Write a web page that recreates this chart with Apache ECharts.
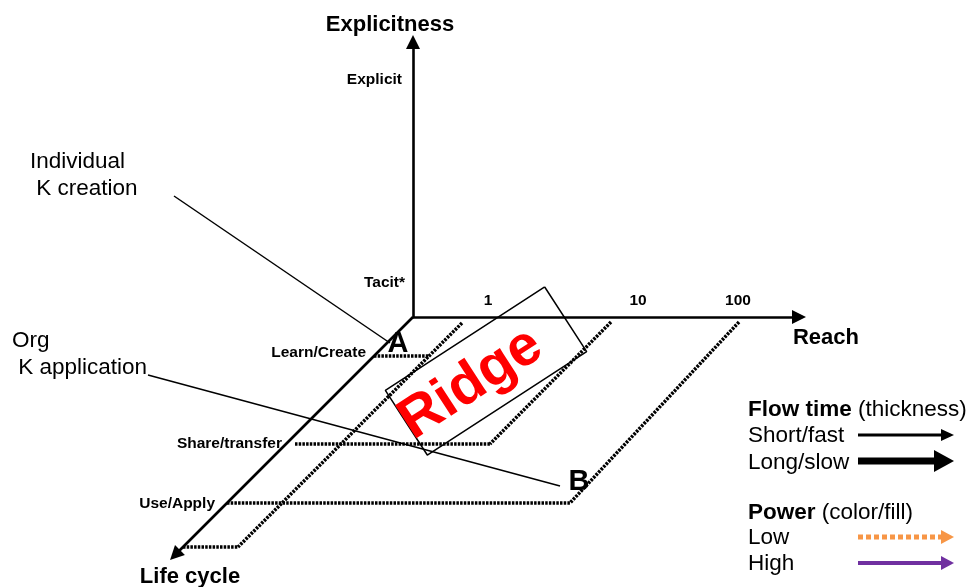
<!DOCTYPE html>
<html>
<head>
<meta charset="utf-8">
<script src="https://cdn.jsdelivr.net/npm/echarts@6/dist/echarts.min.js"></script>
<style>
  html, body { margin: 0; padding: 0; background: #fff; }
  #chart { width: 972px; height: 587px; }
</style>
</head>
<body>
<div id="chart"></div>
<script>
// life cycle stages and their depth along the oblique axis
const stages = ['Learn/Create', 'Share/transfer', 'Use/Apply']
const stageDepth = [39, 127, 186]
// reach ticks (log-ish positions along reach axis)
const reachTicks = ['1', '10', '100']
const reachTickPos = [75, 225, 325]
// explicitness levels
const explicitLevels = ['Tacit*', 'Explicit']
const explicitPos = [34, 237]
// axis lengths [explicitness, reach, life cycle]
const axisLen = [275, 386, 238]
// flow paths, each segment as [[reach, depth], [reach, depth]]
const flowSegments = [
  [[0, 39], [55, 39]],
  [[55, 6], [55, 230]],
  [[0, 230], [55, 230]],
  [[9, 127], [204, 127]],
  [[203, 5], [204, 127]],
  [[0, 186], [343, 186]],
  [[331, 5], [343, 186]]
]
// marked points A and B as [reach, depth, explicitness]
const marks = [['A', 24, 39, 12], ['B', 352, 186, 21]]

const FONT = 'Liberation Sans, Arial, sans-serif'

// oblique projection: reach to the right, depth down-left at 45 degrees, explicitness up
const proj = (r, d, e) => [r - d, (e || 0) - d]

const chart = echarts.init(document.getElementById('chart'))

const axisLines = [
  { coords: [proj(0, 0, 0), proj(0, 0, axisLen[0])] },
  { coords: [proj(0, 0, 0), proj(axisLen[1], 0, 0)] },
  { coords: [proj(0, 0, 0), proj(0, axisLen[2], 0)] }
]

// ridge box: center, half length, half width, angle
const ridge = { c: [73, -54], hl: 95, hw: 38.5, ang: 33 }
const ra = ridge.ang * Math.PI / 180
const ux = Math.cos(ra), uy = Math.sin(ra)
const ridgeBox = [[1, 1], [1, -1], [-1, -1], [-1, 1], [1, 1]].map(([a, b]) => [
  ridge.c[0] + a * ridge.hl * ux - b * ridge.hw * uy,
  ridge.c[1] + a * ridge.hl * uy + b * ridge.hw * ux
])

const labelPoint = (coord, text, opt) => ({
  value: coord,
  label: Object.assign({ show: true, formatter: text, fontFamily: FONT, color: '#000' }, opt)
})

const textPoints = [
  labelPoint(proj(0, 0, axisLen[0] + 35), 'Explicitness', { fontSize: 22, fontWeight: 'bold', position: 'inside', offset: [-23, 18] }),
  labelPoint(proj(axisLen[1], 0, 0), 'Reach', { fontSize: 22, fontWeight: 'bold', position: 'inside', offset: [27, 21] }),
  labelPoint(proj(0, axisLen[2], 0), 'Life cycle', { fontSize: 22, fontWeight: 'bold', position: 'inside', offset: [15, 22] })
]
reachTicks.forEach((t, i) => textPoints.push(
  labelPoint(proj(reachTickPos[i], 0, 16), t, { fontSize: 15.5, fontWeight: 'bold', position: 'inside' })))
explicitLevels.forEach((t, i) => textPoints.push(
  labelPoint(proj(0, 0, explicitPos[i]), t, { fontSize: 15.5, fontWeight: 'bold', position: 'left', distance: 8 + i * 3 })))
stages.forEach((t, i) => textPoints.push(
  labelPoint(proj(0, stageDepth[i], 0), t, { fontSize: 15.5, fontWeight: 'bold', position: 'left', distance: [8, 4, 12][i], offset: [0, [-3, 0, 1][i]] })))
marks.forEach(([t, r, d, e]) => textPoints.push(
  labelPoint(proj(r, d, e), t, { fontSize: 29, fontWeight: 'bold', position: 'inside' })))

// leader lines from the annotation texts to A and B
const leaders = [
  { coords: [[-239, 121], [-23, -26]] },
  { coords: [[-265, -58], [147, -169]] }
]

const legendFont = '22.5px ' + FONT
const richBold = { b: { fontWeight: 'bold', fontSize: 22.5, fontFamily: FONT } }

chart.setOption({
  backgroundColor: '#fff',
  animation: false,
  grid: { left: 0, top: 0, width: 972, height: 587 },
  xAxis: { type: 'value', min: -413, max: 559, show: false },
  yAxis: { type: 'value', min: -270, max: 317, show: false },
  series: [
    {
      type: 'lines',
      coordinateSystem: 'cartesian2d',
      symbol: ['none', 'triangle'],
      symbolSize: [0, 14],
      lineStyle: { color: '#000', width: 2.6, opacity: 1 },
      data: axisLines,
      z: 3
    },
    {
      type: 'lines',
      coordinateSystem: 'cartesian2d',
      lineStyle: { color: '#000', width: 3.5, type: [2.5, 1.2], opacity: 1 },
      data: flowSegments.map(s => ({ coords: s.map(p => proj(p[0], p[1], 0)) })),
      z: 2
    },
    {
      type: 'lines',
      coordinateSystem: 'cartesian2d',
      lineStyle: { color: '#000', width: 1.5, opacity: 1 },
      data: leaders,
      z: 2
    },
    {
      type: 'line',
      data: ridgeBox,
      symbol: 'none',
      lineStyle: { color: '#000', width: 1.5 },
      z: 2
    },
    {
      type: 'scatter',
      symbolSize: 0,
      itemStyle: { opacity: 1 },
      data: [labelPoint([58, -67], 'Ridge', { fontSize: 57, fontWeight: 'bold', color: '#ff0000', position: 'inside', rotate: ridge.ang })],
      z: 4
    },
    {
      type: 'scatter',
      symbolSize: 0,
      itemStyle: { opacity: 1 },
      data: textPoints,
      z: 5
    }
  ],
  graphic: [
    { type: 'text', left: 30, top: 148, style: { text: 'Individual\n K creation', font: legendFont, lineHeight: 27, fill: '#000' } },
    { type: 'text', left: 12, top: 327, style: { text: 'Org\n K application', font: legendFont, lineHeight: 27, fill: '#000' } },
    { type: 'text', left: 748, top: 398, style: { text: '{b|Flow time} (thickness)', font: legendFont, fill: '#000', rich: richBold } },
    { type: 'text', left: 748, top: 424, style: { text: 'Short/fast', font: legendFont, fill: '#000' } },
    { type: 'text', left: 748, top: 451, style: { text: 'Long/slow', font: legendFont, fill: '#000' } },
    { type: 'text', left: 748, top: 501, style: { text: '{b|Power} (color/fill)', font: legendFont, fill: '#000', rich: richBold } },
    { type: 'text', left: 748, top: 526, style: { text: 'Low', font: legendFont, fill: '#000' } },
    { type: 'text', left: 748, top: 552, style: { text: 'High', font: legendFont, fill: '#000' } },
    { type: 'line', shape: { x1: 858, y1: 435, x2: 943, y2: 435 }, style: { stroke: '#000', lineWidth: 3 } },
    { type: 'polygon', shape: { points: [[941, 429], [954, 435], [941, 441]] }, style: { fill: '#000' } },
    { type: 'line', shape: { x1: 858, y1: 461, x2: 936, y2: 461 }, style: { stroke: '#000', lineWidth: 7 } },
    { type: 'polygon', shape: { points: [[934, 450], [954, 461], [934, 472]] }, style: { fill: '#000' } },
    { type: 'line', shape: { x1: 858, y1: 537, x2: 941, y2: 537 }, style: { stroke: '#f79646', lineWidth: 5, lineDash: [5, 3] } },
    { type: 'polygon', shape: { points: [[941, 530], [954, 537], [941, 544]] }, style: { fill: '#f79646' } },
    { type: 'line', shape: { x1: 858, y1: 563, x2: 941, y2: 563 }, style: { stroke: '#7030a0', lineWidth: 4 } },
    { type: 'polygon', shape: { points: [[941, 556], [954, 563], [941, 570]] }, style: { fill: '#7030a0' } }
  ]
})
</script>
</body>
</html>
